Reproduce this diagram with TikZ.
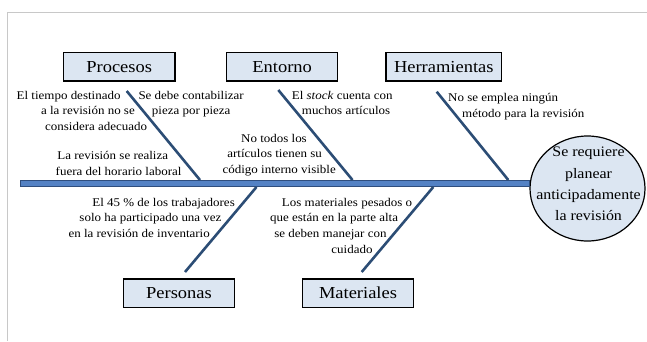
\documentclass[tikz,border=0pt]{standalone}
\usepackage{fontspec}
\setmainfont{Liberation Serif}[FakeStretch=1.1]
\usetikzlibrary{shapes.geometric}
\definecolor{boxfill}{RGB}{220,230,242}
\definecolor{spinefill}{RGB}{84,130,196}
\definecolor{spineedge}{RGB}{47,78,125}
\definecolor{bonecol}{RGB}{44,77,117}
\definecolor{framecol}{RGB}{200,200,200}
\newcommand\padw[1]{\rule{#1}{0pt}}
\begin{document}
\begin{tikzpicture}[x=1pt,y=-1pt,
  catbox/.style={draw=black,line width=1.2pt,fill=boxfill,inner sep=0pt,
    minimum height=28.5pt,font=\fontsize{16.8}{20}\selectfont},
  goalst/.style={ellipse,draw=black,line width=1.2pt,fill=boxfill,inner sep=0pt},
  goaltxt/.style={align=center,inner sep=0pt,font=\fontsize{14.5}{21.3}\selectfont},
  ann/.style={inner sep=0pt,font=\fontsize{11.8}{15.6}\selectfont},
  annR/.style={ann,align=right},
  annL/.style={ann,align=left},
  bone/.style={draw=bonecol,line width=2.6pt},
  spinest/.style={draw=spineedge,fill=spinefill,line width=0.9pt},
  framest/.style={draw=framecol,line width=1pt}]
\useasboundingbox (0,0) rectangle (647,341);
% frame
\draw[framest] (7.3,341) -- (7.3,12.3) -- (647,12.3);
% category boxes
\node[catbox,minimum width=111.7pt] (proc) at (119.2,66.7) {Procesos};
\node[catbox,minimum width=111pt] (ent) at (282.2,66.7) {Entorno};
\node[catbox,minimum width=115.7pt] (herr) at (443.8,66.7) {Herramientas};
\node[catbox,minimum width=111.2pt] (pers) at (179,293.2) {Personas};
\node[catbox,minimum width=110.6pt] (mat) at (358,293.2) {Materiales};
% goal
\node[goalst,minimum width=115pt,minimum height=105pt] (goal) at (587.5,188.5) {};
\coordinate (tail) at (20,183.5);
\coordinate (head) at (tail -| goal.west);
\draw[spinest] ([yshift=3.4pt]tail) rectangle ([yshift=-3.4pt]head);
\node[goaltxt] (goaltext) at (588.5,184) {Se requiere\\planear\\anticipadamente\\la revisión};
% bones
\coordinate (b1t) at (126.7,91);   \coordinate (b1b) at (200,180);
\coordinate (b2t) at (278.3,90);   \coordinate (b2b) at (352.5,180);
\coordinate (b3t) at (436.7,91.7); \coordinate (b3b) at (508.3,180);
\coordinate (b4t) at (256.5,187);  \coordinate (b4b) at (185,272);
\coordinate (b5t) at (433.3,187);  \coordinate (b5b) at (361.7,272);
\draw[bone] (b1t) -- (b1b);
\draw[bone] (b2t) -- (b2b);
\draw[bone] (b3t) -- (b3b);
\draw[bone] (b4t) -- (b4b);
\draw[bone] (b5t) -- (b5b);
% annotations
\node[annR,anchor=north east] (tA) at (147.3,91) {El tiempo destinado\padw{26.6pt}\\a la revisión no se\padw{12.3pt}\\considera adecuado};
\node[annL,anchor=north west] (tB) at (138.3,91) {Se debe contabilizar\\\padw{13.4pt}pieza por pieza};
\node[annR,anchor=north east] (tC) at (181.7,151) {La revisión se realiza\padw{13.4pt}\\fuera del horario laboral};
\node[annR,anchor=north east] (tD) at (336,134) {No todos los\padw{29pt}\\artículos tienen su\padw{14pt}\\código interno visible};
\node[annL,anchor=north west] (tE) at (291.7,91) {El \textit{stock} cuenta con\\\padw{10pt}muchos artículos};
\node[annL,anchor=north west] (tF) at (448,93) {No se emplea ningún\\\padw{14pt}método para la revisión};
\node[annR,anchor=north east] (tG) at (235,198) {El 45 \% de los trabajadores\\solo ha participado una vez\padw{13.3pt}\\en la revisión de inventario\padw{25pt}};
\node[annR,anchor=north east] (tH) at (412.3,198) {Los materiales pesados o\\que están en la parte alta\padw{14pt}\\se deben manejar con\padw{25.6pt}\\cuidado\padw{39.6pt}};
\end{tikzpicture}
\end{document}
